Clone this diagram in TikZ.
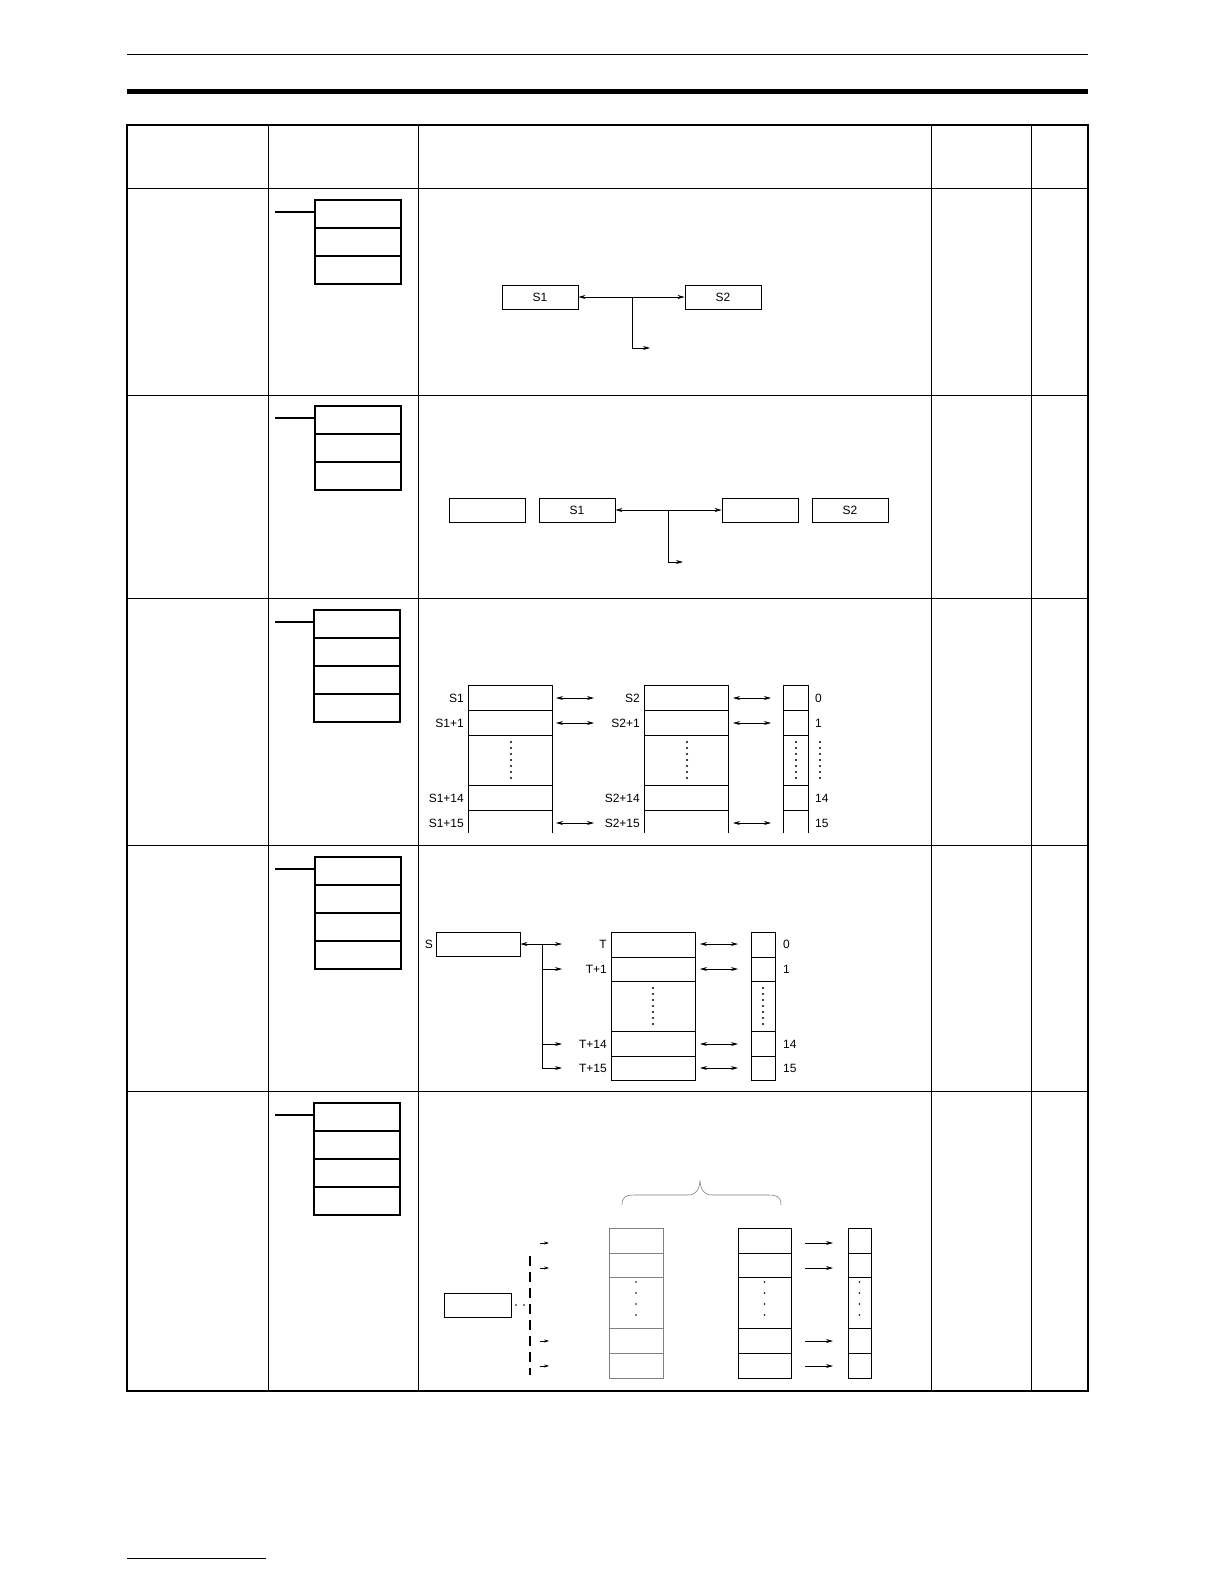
\documentclass[tikz,border=0pt]{standalone}
\usepackage{fontspec}
\setmainfont{Liberation Sans}
\usetikzlibrary{arrows.meta,decorations.pathreplacing}
\begin{document}
\begin{tikzpicture}[x=1pt,y=-1pt,
  lbl/.style={font=\fontsize{12}{14}\selectfont,inner sep=0pt},
  arr/.style={-{Stealth[length=7pt,width=4pt]},line width=0.7pt},
  darr/.style={{Stealth[length=7pt,width=4pt]}-{Stealth[length=7pt,width=4pt]},line width=0.7pt},
  cell/.style={draw,line width=0.8pt,minimum width=76pt,minimum height=24pt,inner sep=0pt,font=\fontsize{12}{14}\selectfont},
  dotv/.style={line width=2.2pt,dash pattern=on 0pt off 6pt,line cap=round}]
\useasboundingbox (0,0) rectangle (1224,1584);
% header rules
\draw[line width=1pt] (127,55) -- (1088,55);
\draw[line width=5pt] (127,92) -- (1088,92);
\draw[line width=0.6pt] (127,1558) -- (266,1558);
% table
\draw[line width=1.6pt] (127,125) rectangle (1088,1391);
\foreach \x in {268,418,931,1031} \draw[line width=1pt] (\x,125) -- (\x,1391);
\foreach \y in {188,395,598,845,1091} \draw[line width=1pt] (127,\y) -- (1088,\y);
% ladder symbols
\foreach \t/\n/\lx in {200/3/315,406/3/315,610/4/314,857/4/315,1103/4/314}{
  \draw[line width=1.2pt] (\lx,\t) rectangle ({\lx+86},{\t+28*\n});
  \foreach \k in {1,...,\n} \draw[line width=1.2pt] (\lx,{\t+28*\k}) -- ({\lx+86},{\t+28*\k});
  \draw[line width=1.2pt] (275,{\t+12}) -- (\lx,{\t+12});
}
% row 1
\node[cell] (a1) at (540,297) {S1};
\node[cell] (a2) at (723,297) {S2};
\draw[darr] (a1.east) -- (a2.west);
\coordinate (a3) at (632,297); \coordinate (a4) at (650,348);
\draw[arr] (a3) |- (a4);
% row 2
\node[cell] (b0) at (487,510) {};
\node[cell] (b1) at (577,510) {S1};
\node[cell] (b2) at (760,510) {};
\node[cell] (b3) at (850,510) {S2};
\draw[darr] (b1.east) -- (b2.west);
\coordinate (b4) at (668,510); \coordinate (b5) at (683,562);
\draw[arr] (b4) |- (b5);
% row 3
\foreach \x/\w in {468/84,644/84,783/25}{
  \draw[line width=0.8pt] (\x,685) -- (\x,833) (\x+\w,685) -- (\x+\w,833);
  \foreach \y in {685,710,735,785,810} \draw[line width=0.8pt] (\x,\y) -- (\x+\w,\y);
}
\draw[dotv] (511,742) -- (511,781);
\draw[dotv] (687,742) -- (687,781);
\draw[dotv] (796,742) -- (796,781);
\draw[dotv] (820,742) -- (820,781);
\foreach \t/\y in {S1/698,S1+1/723,S1+14/798,S1+15/823} \node[lbl,anchor=east] (l1\y) at (464,\y) {\t};
\foreach \t/\y in {S2/698,S2+1/723,S2+14/798,S2+15/823} \node[lbl,anchor=east] (l2\y) at (640,\y) {\t};
\foreach \t/\y in {0/698,1/723,14/798,15/823} \node[lbl,anchor=west] (l3\y) at (815,\y) {\t};
\foreach \y in {698,723,823}{
  \coordinate (p\y a) at (556,\y); \coordinate (p\y b) at (594,\y);
  \coordinate (q\y a) at (733,\y); \coordinate (q\y b) at (771,\y);
  \draw[darr] (p\y a) -- (p\y b); \draw[darr] (q\y a) -- (q\y b);
}
% row 4
\node[cell,minimum width=84pt] (s) at (478,944) {};
\node[lbl,anchor=east] (sl) at (433,944) {S};
\foreach \x/\w in {611/84,751/24}{
  \draw[line width=0.8pt] (\x,932) rectangle (\x+\w,1080);
  \foreach \y in {957,981,1031,1056} \draw[line width=0.8pt] (\x,\y) -- (\x+\w,\y);
}
\draw[dotv] (653,988) -- (653,1027);
\draw[dotv] (763,988) -- (763,1027);
\foreach \t/\y in {T/944,T+1/969,T+14/1044,T+15/1068} \node[lbl,anchor=east] (t\y) at (607,\y) {\t};
\foreach \t/\y in {0/944,1/969,14/1044,15/1068} \node[lbl,anchor=west] (u\y) at (783,\y) {\t};
\coordinate (sv) at (542,944); \coordinate (sv2) at (542,1068);
\coordinate (sr) at (562,944);
\draw[darr] (s.east) -- (sr);
\draw[line width=0.7pt] (sv) -- (sv2);
\foreach \y in {969,1044,1068}{\coordinate (sa\y) at (542,\y); \coordinate (sb\y) at (562,\y); \draw[arr] (sa\y) -- (sb\y);}
\foreach \y in {944,969,1044,1068}{\coordinate (ta\y) at (700,\y); \coordinate (tb\y) at (738,\y); \draw[darr] (ta\y) -- (tb\y);}
% row 5
\draw[line width=0.6pt,gray] (622,1205) .. controls (622,1196) and (626,1195) .. (636,1195) -- (688,1195) .. controls (696,1195) and (699,1190) .. (700,1181) .. controls (701,1190) and (704,1195) .. (712,1195) -- (768,1195) .. controls (776,1195) and (781,1196) .. (781,1205);
\node[draw,line width=0.8pt,minimum width=67pt,minimum height=24pt,inner sep=0pt] (r) at (477.5,1305) {};
\fill (516,1305) circle (0.8pt) (524,1305) circle (0.8pt);
\draw[line width=2pt,dash pattern=on 10pt off 6pt] (530,1256) -- (530,1375);
\foreach \y in {1243,1268,1341,1366}{\coordinate (ea\y) at (540,\y); \coordinate (eb\y) at (549,\y); \draw[-{Stealth[length=5pt,width=3pt]},line width=0.5pt] (ea\y) -- (eb\y);}
\foreach \x/\w/\c in {609/54/gray,738/53/black,848/23/black}{
  \draw[line width=0.8pt,\c] (\x,1228) rectangle (\x+\w,1378);
  \foreach \y in {1253,1277,1328,1353} \draw[line width=0.8pt,\c] (\x,\y) -- (\x+\w,\y);
  \foreach \y in {1282,1293,1304,1315} \fill ({\x+\w/2},\y) circle (0.8pt);
}
\foreach \y in {1243,1268,1341,1366}{\coordinate (fa\y) at (805,\y); \coordinate (fb\y) at (833,\y); \draw[arr] (fa\y) -- (fb\y);}
\end{tikzpicture}
\end{document}
